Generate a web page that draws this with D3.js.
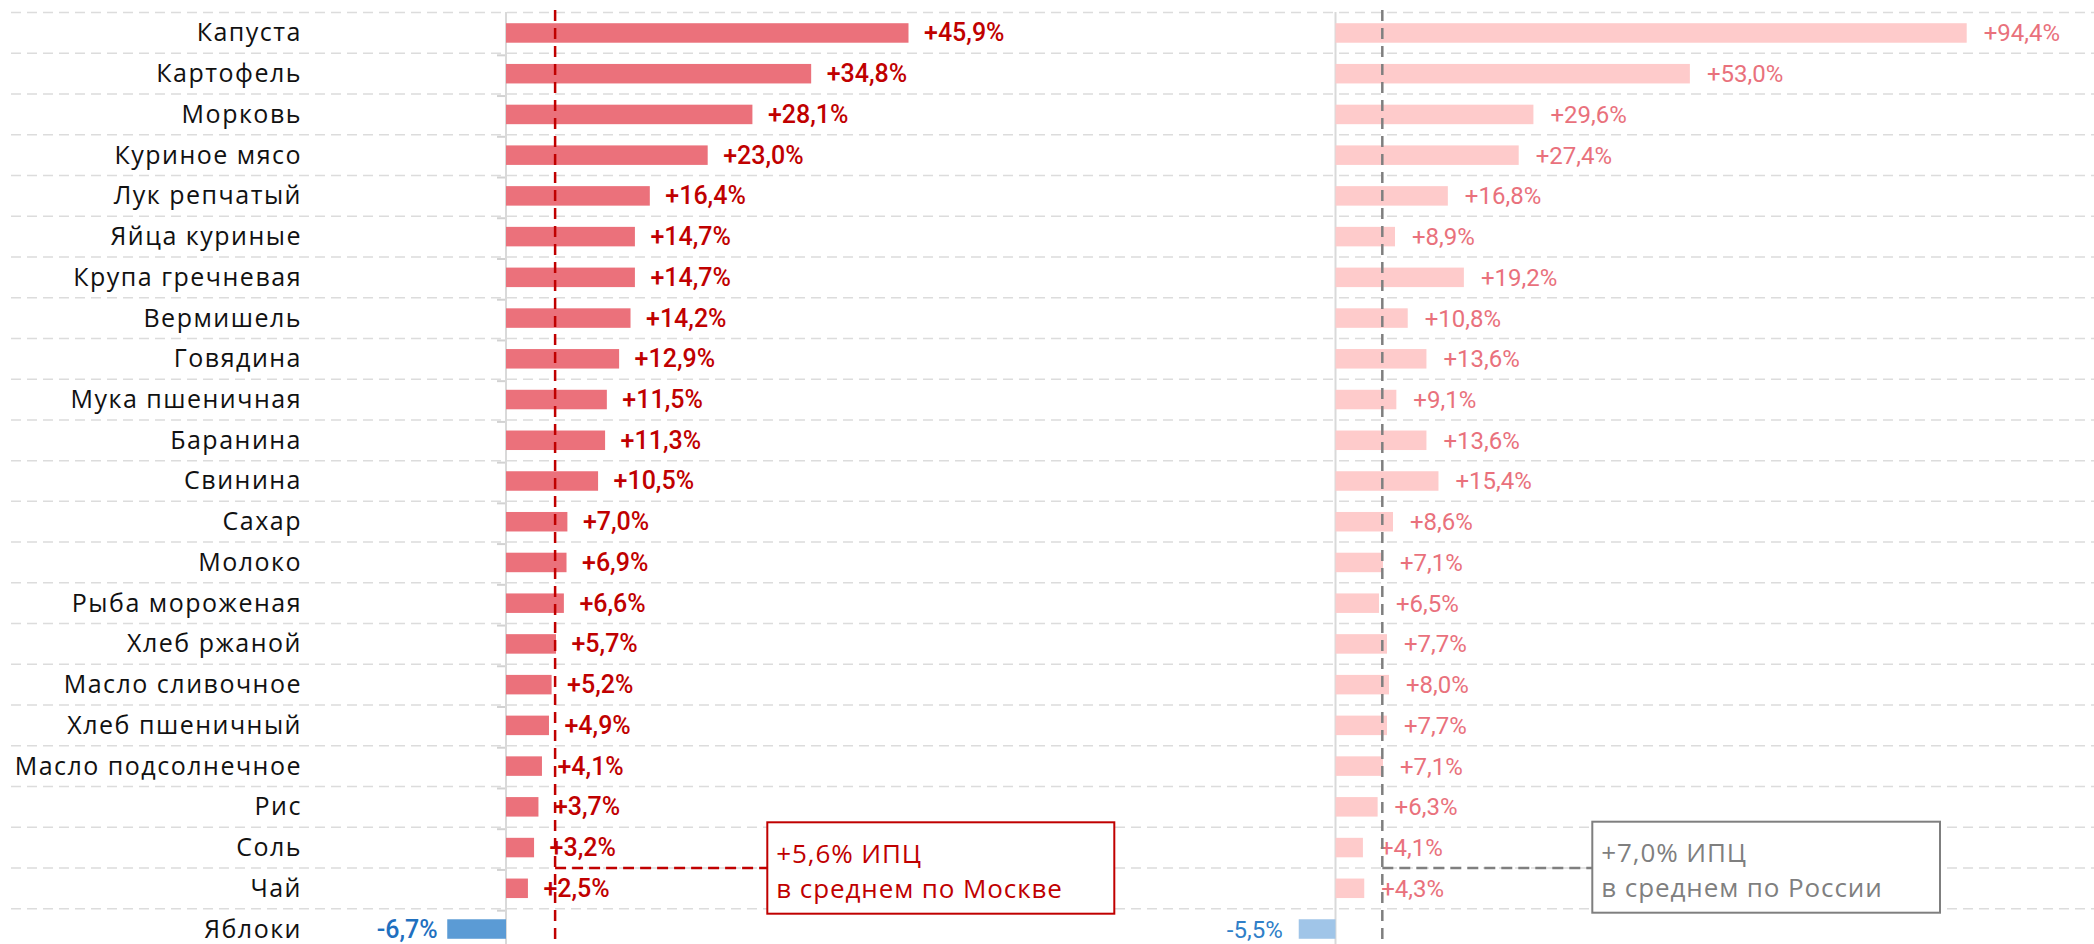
<!DOCTYPE html>
<html>
<head>
<meta charset="utf-8">
<script src="https://cdn.jsdelivr.net/npm/d3@7"></script>
<style>
  html, body { margin: 0; padding: 0; background: #fff; }
  svg { display: block; }
</style>
</head>
<body>
<div id="chart"></div>
<script>
// Categories, top to bottom
const categories = [
    'Капуста', 'Картофель', 'Морковь', 'Куриное мясо', 'Лук репчатый',
    'Яйца куриные', 'Крупа гречневая', 'Вермишель', 'Говядина', 'Мука пшеничная',
    'Баранина', 'Свинина', 'Сахар', 'Молоко', 'Рыба мороженая', 'Хлеб ржаной',
    'Масло сливочное', 'Хлеб пшеничный', 'Масло подсолнечное', 'Рис', 'Соль',
    'Чай', 'Яблоки'
];

// Price change, % (Moscow)
const moscowValues = [
    45.9, 34.8, 28.1, 23.0, 16.4, 14.7, 14.7, 14.2, 12.9, 11.5, 11.3, 10.5,
    7.0, 6.9, 6.6, 5.7, 5.2, 4.9, 4.1, 3.7, 3.2, 2.5, -6.7
];

// Price change, % (Russia)
const russiaValues = [
    94.4, 53.0, 29.6, 27.4, 16.8, 8.9, 19.2, 10.8, 13.6, 9.1, 13.6, 15.4,
    8.6, 7.1, 6.5, 7.7, 8.0, 7.7, 7.1, 6.3, 4.1, 4.3, -5.5
];

// Average CPI
const moscowCpi = 5.6;
const russiaCpi = 7.0;
const moscowCpiLabel = ['+5,6% ИПЦ', 'в среднем по Москве'];
const russiaCpiLabel = ['+7,0% ИПЦ', 'в среднем по России'];

const width = 2094;
const height = 944;

const labelFont = '"Open Sans", sans-serif';
const valueFont = 'Roboto, sans-serif';

const colors = {
    moscowBar: '#eb717b',
    moscowText: '#c00000',
    russiaBar: '#fecbcb',
    russiaText: '#e9717c',
    moscowNegBar: '#5b9bd5',
    moscowNegText: '#1f70bf',
    russiaNegBar: '#a0c5e8',
    russiaNegText: '#2f7fc8',
    grid: '#dcdcdc',
    axis: '#d9d9d9',
    russiaCpi: '#7f7f7f'
};

const locale = d3.formatLocale({ decimal: ',', thousands: ' ', grouping: [3], currency: ['', ''], minus: '-' });
const fmt = v => locale.format('+.1f')(v) + '%';

const svg = d3.select('#chart')
    .append('svg')
    .attr('width', width)
    .attr('height', height);

// Rows
const y = d3.scaleBand()
    .domain(categories)
    .range([12.6, 12.6 + categories.length * 40.73]);
const barH = 19.5;
const rowMid = d => y(d) + y.bandwidth() / 2;

// Two panels
const xL = d3.scaleLinear().domain([0, 45.9]).range([506, 908.5]);
const xR = d3.scaleLinear().domain([0, 94.4]).range([1335.5, 1966.7]);

// Dashed grid between rows
svg.append('g')
    .selectAll('line')
    .data(categories)
    .enter().append('line')
    .attr('x1', 11)
    .attr('x2', width)
    .attr('y1', d => y(d))
    .attr('y2', d => y(d))
    .attr('stroke', colors.grid)
    .attr('stroke-width', 1.5)
    .attr('stroke-dasharray', '10,6');

// Small ticks on the left axis
svg.append('g')
    .selectAll('line')
    .data(categories.slice(1))
    .enter().append('line')
    .attr('x1', xL(0) - 9)
    .attr('x2', xL(0))
    .attr('y1', d => y(d) + 2)
    .attr('y2', d => y(d) + 2)
    .attr('stroke', '#d2d2d2')
    .attr('stroke-width', 2);

// Zero lines
[xL(0), xR(0)].forEach(x0 => {
    svg.append('line')
        .attr('x1', x0).attr('x2', x0)
        .attr('y1', 12).attr('y2', height)
        .attr('stroke', colors.axis)
        .attr('stroke-width', 2);
});

function drawPanel(values, x, opts) {
    const rows = categories.map((c, i) => ({ cat: c, value: values[i] }));
    const g = svg.append('g');

    g.selectAll('rect')
        .data(rows)
        .enter().append('rect')
        .attr('x', d => x(Math.min(0, d.value)))
        .attr('y', d => rowMid(d.cat) - barH / 2)
        .attr('width', d => Math.abs(x(d.value) - x(0)))
        .attr('height', barH)
        .attr('fill', d => d.value < 0 ? opts.negBar : opts.bar);

    g.selectAll('text')
        .data(rows)
        .enter().append('text')
        .attr('x', d => d.value < 0 ? x(d.value) - opts.negGap : x(d.value) + opts.gap)
        .attr('y', d => rowMid(d.cat) + 8.5)
        .attr('text-anchor', d => d.value < 0 ? 'end' : 'start')
        .attr('font-family', valueFont)
        .attr('font-size', opts.size)
        .attr('font-weight', opts.weight)
        .attr('fill', d => d.value < 0 ? opts.negText : opts.text)
        .text(d => fmt(d.value));
}

drawPanel(moscowValues, xL, {
    bar: colors.moscowBar, text: colors.moscowText,
    negBar: colors.moscowNegBar, negText: colors.moscowNegText,
    gap: 15.5, negGap: 9.5, weight: 500, size: 25
});

drawPanel(russiaValues, xR, {
    bar: colors.russiaBar, text: colors.russiaText,
    negBar: colors.russiaNegBar, negText: colors.russiaNegText,
    gap: 17, negGap: 16, weight: 400, size: 24
});

// Category labels
svg.append('g')
    .selectAll('text')
    .data(categories)
    .enter().append('text')
    .attr('x', 302)
    .attr('y', d => rowMid(d) + 8.5)
    .attr('text-anchor', 'end')
    .attr('font-family', labelFont)
    .attr('font-size', 25)
    .attr('letter-spacing', 1.5)
    .attr('fill', '#111')
    .text(d => d);

// CPI markers with callout boxes
function drawCpi(x, cpi, color, lines, box) {
    const xc = x(cpi);
    const yLink = y('Чай');

    svg.append('line')
        .attr('x1', xc).attr('x2', xc)
        .attr('y1', 10).attr('y2', height)
        .attr('stroke', color)
        .attr('stroke-width', 2.5)
        .attr('stroke-dasharray', '11,7');

    svg.append('line')
        .attr('x1', xc).attr('x2', box.x)
        .attr('y1', yLink).attr('y2', yLink)
        .attr('stroke', color)
        .attr('stroke-width', 2.5)
        .attr('stroke-dasharray', '11,6');

    svg.append('rect')
        .attr('x', box.x)
        .attr('y', box.y)
        .attr('width', box.w)
        .attr('height', box.h)
        .attr('fill', '#fff')
        .attr('stroke', color)
        .attr('stroke-width', 2);

    lines.forEach((t, i) => {
        svg.append('text')
            .attr('x', box.x + 9)
            .attr('y', box.y + 40.5 + i * 35)
            .attr('font-family', labelFont)
            .attr('font-size', 26)
            .attr('letter-spacing', 0.9)
            .attr('fill', color)
            .text(t);
    });
}

drawCpi(xL, moscowCpi, colors.moscowText, moscowCpiLabel, { x: 767.3, y: 822.3, w: 347, h: 91.4 });
drawCpi(xR, russiaCpi, colors.russiaCpi, russiaCpiLabel, { x: 1592.3, y: 821.7, w: 347.7, h: 91 });
</script>
</body>
</html>
